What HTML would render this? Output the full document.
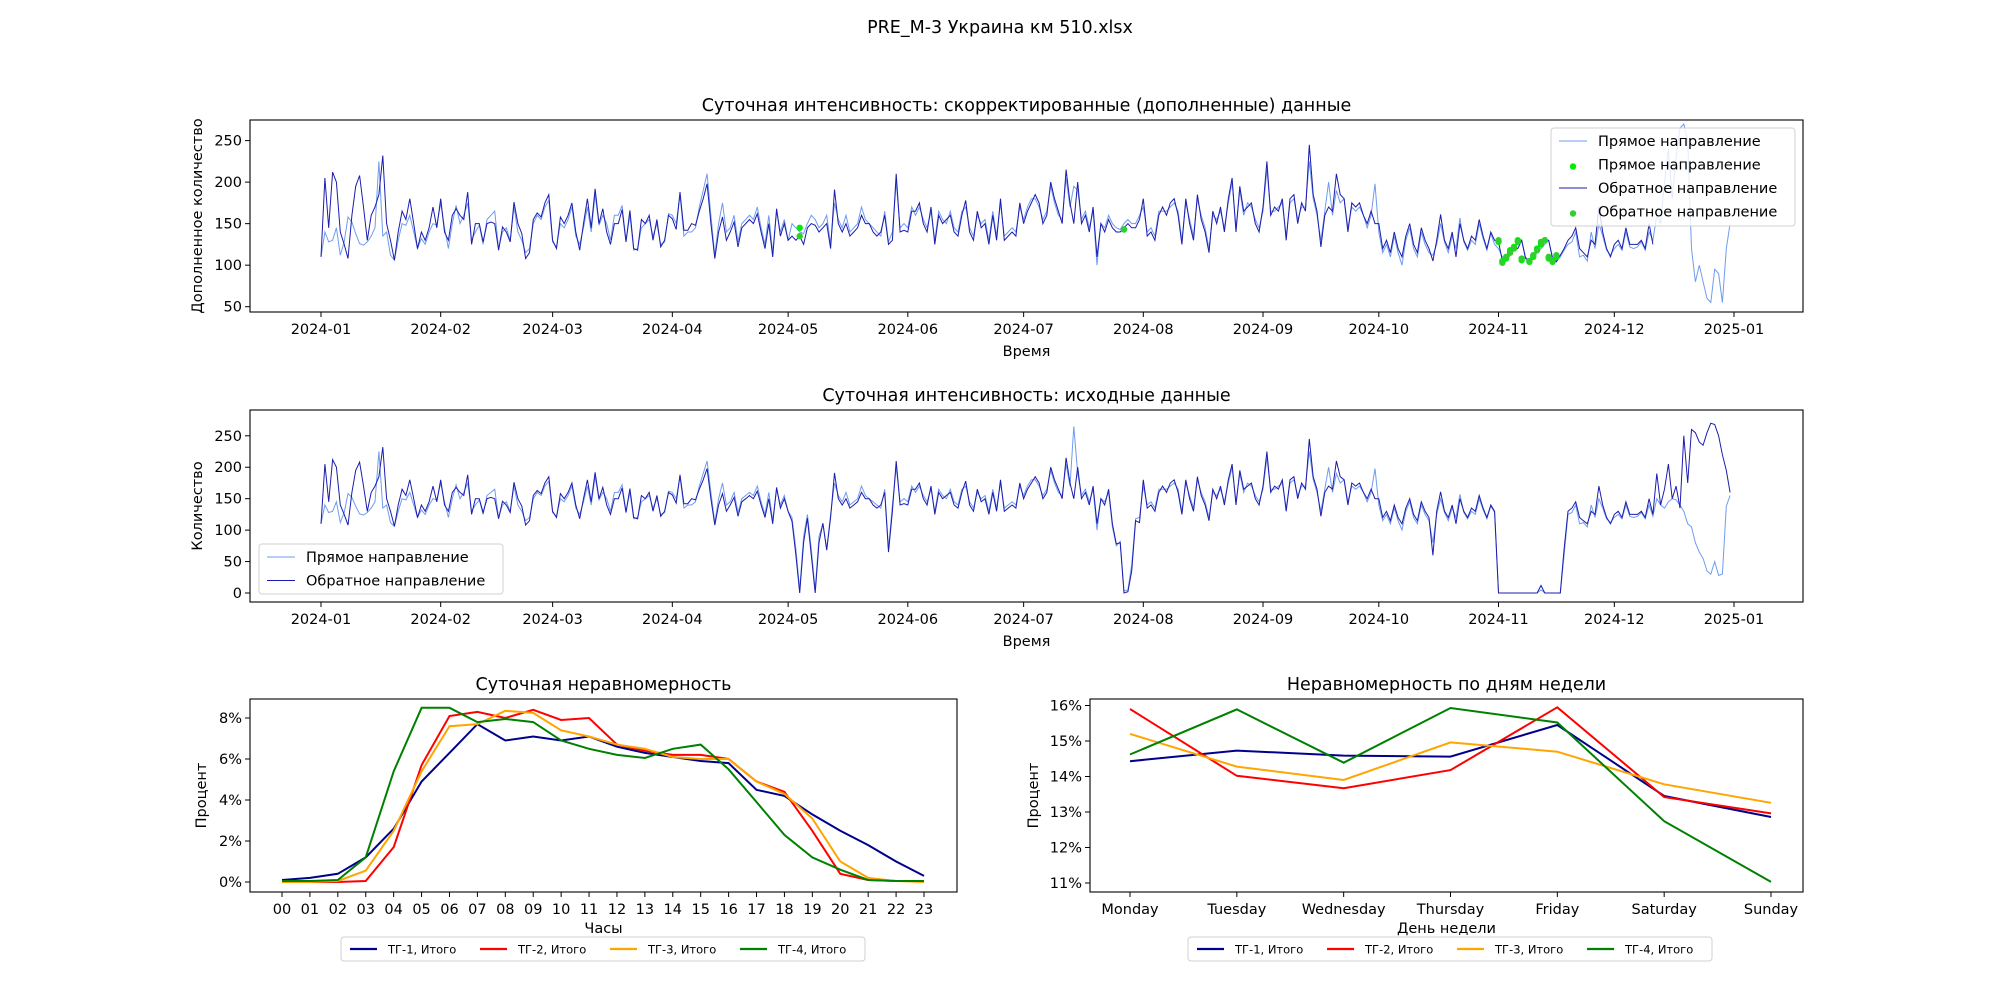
<!DOCTYPE html>
<html><head><meta charset="utf-8"><style>
html,body{margin:0;padding:0;background:#fff;}
svg{display:block;font-family:"DejaVu Sans","Liberation Sans",sans-serif;}
</style></head><body>
<svg id="fig" width="2000" height="1000" viewBox="0 0 2000 1000" xmlns="http://www.w3.org/2000/svg">
<text x="1000" y="33" font-size="17.5" text-anchor="middle">PRE_M-3 Украина км 510.xlsx</text>
</svg>
<script>
// ---------- DATA ----------
const monthTicks = ["2024-01","2024-02","2024-03","2024-04","2024-05","2024-06","2024-07","2024-08","2024-09","2024-10","2024-11","2024-12","2025-01"];
const monthStartDays = [0,31,60,91,121,152,182,213,244,274,305,335,366];
const bwdRaw = [
110,205,145,212,200,140,125,108,160,195,208,170,130,160,170,185,232,150,130,106,140,165,155,180,150,120,140,130,145,170,145,
180,140,130,160,168,160,155,188,125,150,150,128,150,152,150,118,146,140,128,176,150,138,108,115,155,163,158,175,185,
130,120,158,150,160,175,140,118,150,180,145,192,150,168,140,125,150,150,167,128,166,120,118,155,150,160,130,155,122,130,160,
156,143,188,142,142,150,148,165,180,198,150,108,140,158,130,140,152,122,145,150,155,150,162,140,120,150,110,168,135,150,
130,114,60,0,80,119,60,0,80,111,68,120,191,150,140,150,135,140,145,160,150,150,140,135,140,160,65,130,210,140,142,
140,165,165,175,150,140,170,125,160,150,155,160,140,135,160,178,140,130,165,145,150,125,160,130,180,130,135,140,135,175,
150,165,175,185,175,150,160,200,180,165,150,215,175,150,200,150,160,140,170,110,150,140,165,110,78,80,0,2,35,115,112,
180,135,140,130,160,170,160,175,180,160,125,180,150,130,185,155,140,115,165,150,170,140,180,205,140,195,165,170,175,150,140,
170,225,160,170,165,180,130,180,185,150,175,165,245,185,165,122,160,170,165,210,185,180,140,175,170,175,160,150,165,150,
150,120,130,115,140,120,110,135,150,125,115,145,130,120,60,130,161,130,120,140,110,150,130,120,135,130,155,135,120,140,130,
0,0,0,0,0,0,0,0,0,0,0,12,0,0,0,0,0,70,130,135,145,120,115,110,130,125,170,140,120,110,
125,130,120,145,125,125,125,130,120,150,125,190,140,165,205,150,170,135,250,175,260,255,240,235,255,270,268,250,220,195,160];
const fwdRaw = [
110,140,128,130,145,112,128,158,152,138,126,124,128,135,145,225,135,140,112,106,130,150,148,160,140,120,132,125,140,150,148,
175,145,120,150,172,150,160,175,130,140,148,125,155,160,165,120,140,145,130,170,140,130,115,120,150,160,155,170,178,
128,122,150,145,155,170,135,125,145,170,140,185,148,160,150,130,160,160,172,130,160,118,120,145,150,155,135,150,125,128,162,
160,150,185,135,140,140,145,170,190,210,160,112,150,175,140,145,160,128,150,155,160,155,170,145,125,160,115,165,140,155,
130,120,70,5,90,125,70,5,90,110,70,125,175,155,145,160,140,145,150,170,155,150,145,140,135,165,70,140,200,145,150,
145,170,160,170,155,145,165,130,165,155,150,165,145,140,165,170,145,135,160,150,155,130,165,135,175,135,140,145,140,170,
155,170,180,180,170,155,165,195,175,160,155,205,170,265,190,155,165,145,165,100,150,145,160,105,75,82,3,5,45,118,120,
170,140,145,135,165,165,165,170,175,165,130,175,155,135,180,160,145,120,160,155,165,145,175,200,145,190,160,175,170,155,145,
165,215,165,165,170,175,135,175,180,155,170,170,225,180,160,130,165,200,160,190,175,180,145,170,165,170,160,145,160,198,
140,115,125,110,135,115,100,130,145,120,110,140,125,115,80,125,150,128,115,135,120,157,128,118,130,125,150,132,118,138,128,
0,0,0,0,0,0,0,0,0,0,0,5,0,0,0,0,0,60,125,128,140,110,112,105,140,120,150,135,118,112,
120,125,118,140,122,120,122,128,118,140,122,150,140,135,145,150,148,140,130,110,105,80,65,55,35,30,50,28,30,138,155];
// corrections for the adjusted (top) chart
const corrIdx = [122,123,124,125,126,127,128,129,130,131, 147, 195, 204,205,206,207,208,209,210,211,212, 288,
 304,305,306,307,308,309,310,311,312,313,314,315,316,317,318,319,320,321,322,
 345,346,347,348,349,350,351,352,353,354,355,356,357,358,359,360,361,362,363,364,365];
const corrFwd = [150,145,140,138,150,160,155,145,150,160, 128, 195, 160,150,145,143,150,155,150,150,160, 112,
 125,120,110,105,112,120,125,130,110,105,108,115,120,125,130,110,105,110,118,
 130,160,150,200,240,180,230,265,270,250,120,80,100,80,60,55,95,90,55,120,150];
const corrBwd = [135,130,135,125,145,150,148,140,145,150, 125, 150, 155,145,140,140,145,150,145,145,155, 105,
 130,128,105,108,115,122,120,130,108,105,112,118,125,128,130,108,104,112,120,
 125,null,null,null,null,null,null,null,null,null,null,null,null,null,null,null,null,null,null,null,null];
const ptIdx = [124,208,305,306,307,308,309,310,311,313,314,315,316,317,318,319,320];
const ptFwd = [145,143,128,105,108,118,122,130,106,104,110,120,125,130,108,104,110];
const ptBwd = [135,143,130,103,110,115,120,128,108,105,112,118,128,130,110,106,112];
// hourly distribution (%)
const hours = ["00","01","02","03","04","05","06","07","08","09","10","11","12","13","14","15","16","17","18","19","20","21","22","23"];
const hourTG1 = [0.1,0.2,0.4,1.2,2.6,4.9,6.3,7.7,6.9,7.1,6.9,7.1,6.6,6.3,6.1,5.9,5.8,4.5,4.2,3.3,2.5,1.8,1.0,0.3];
const hourTG2 = [0,0,0,0.05,1.7,5.7,8.1,8.3,8.0,8.4,7.9,8.0,6.7,6.4,6.2,6.2,6.0,4.9,4.4,2.5,0.4,0.1,0.05,0.05];
const hourTG3 = [0,0,0.05,0.55,2.5,5.4,7.6,7.7,8.35,8.25,7.4,7.1,6.7,6.5,6.1,6.0,6.0,4.9,4.3,3.1,1.0,0.2,0.05,0];
const hourTG4 = [0.05,0.05,0.1,1.2,5.4,8.5,8.5,7.8,7.95,7.8,6.9,6.5,6.2,6.05,6.5,6.7,5.5,3.9,2.3,1.2,0.6,0.1,0.05,0.05];
const days = ["Monday","Tuesday","Wednesday","Thursday","Friday","Saturday","Sunday"];
const dayTG1 = [14.43,14.73,14.59,14.56,15.45,13.45,12.86];
const dayTG2 = [15.9,14.02,13.67,14.18,15.95,13.42,12.96];
const dayTG3 = [15.2,14.28,13.9,14.96,14.7,13.78,13.26];
const dayTG4 = [14.62,15.89,14.39,15.93,15.52,12.74,11.03];
const tgNames = ["ТГ-1, Итого","ТГ-2, Итого","ТГ-3, Итого","ТГ-4, Итого"];

// ---------- DRAW ----------
const NS = "http://www.w3.org/2000/svg";
const svg = document.getElementById('fig');
function mk(tag, attrs, parent){const e=document.createElementNS(NS,tag);for(const k in attrs)e.setAttribute(k,attrs[k]);(parent||svg).appendChild(e);return e;}
function txt(x,y,s,size,anchor,parent,extra){const t=mk('text',Object.assign({x:x,y:y,'font-size':size,'text-anchor':anchor||'middle',fill:'#000'},extra||{}),parent);t.textContent=s;return t;}
const C = {light:'#6f9cf0', dark:'#1c1cae', tg:['#00008b','#ff0000','#ffa500','#008000']};

function axesBox(L,T,R,B,name){const g=mk('g',{});
 mk('rect',{x:L,y:T,width:R-L,height:B-T,fill:'none',stroke:'#000','stroke-width':1.1},g);return g;}
function pathFrom(pts){let d='';let pen=false;for(const p of pts){if(p==null){pen=false;continue;}d+=(pen?'L':'M')+p[0].toFixed(1)+','+p[1].toFixed(1);pen=true;}return d;}

// time axis
const X0=321, X1=1734, NDAYS=366;
const xDay = d => X0 + d*(X1-X0)/NDAYS;
function timeAxes(L,T,R,B,yOf,yTicks,ylabel,name){
 const g=axesBox(L,T,R,B,name);
 monthTicks.forEach((m,i)=>{const x=xDay(monthStartDays[i]);mk('line',{x1:x,x2:x,y1:B,y2:B+5,stroke:'#000'},g);
  const t=txt(x,B+22,m,14.5,'middle',g);});
 yTicks.forEach(v=>{const y=yOf(v);mk('line',{x1:L-5,x2:L,y1:y,y2:y,stroke:'#000'},g);
  const t=txt(L-8,y+5,String(v),14.5,'end',g);});
 const xl=txt((L+R)/2,B+44,'Время',14.5,'middle',g);
 const yl=txt(0,0,ylabel,14.5,'middle',g,{transform:`translate(${L-48},${(T+B)/2}) rotate(-90)`});
 return g;}

// ---- top chart ----
{
 const L=250,T=120,R=1803,B=312;
 const yOf=v=>306.7-(v-50)*(306.7-140.6)/200;
 const g=timeAxes(L,T,R,B,yOf,[50,100,150,200,250],'Дополненное количество','adjusted-daily-chart');
 const t=txt((L+R)/2,T-9,'Суточная интенсивность: скорректированные (дополненные) данные',17.5,'middle',g);
 
 const fwd=fwdRaw.slice(), bwd=bwdRaw.slice();
 corrIdx.forEach((d,i)=>{fwd[d]=corrFwd[i];bwd[d]=corrBwd[i];});
 const lf=mk('path',{d:pathFrom(fwd.map((v,i)=>v==null?null:[xDay(i),yOf(v)])),fill:'none',stroke:C.light,'stroke-width':1},g);
 
 const lb=mk('path',{d:pathFrom(bwd.map((v,i)=>v==null?null:[xDay(i),yOf(v)])),fill:'none',stroke:C.dark,'stroke-width':1},g);
 
 ptIdx.forEach((d,i)=>{
  const a=mk('circle',{cx:xDay(d),cy:yOf(ptFwd[i]),r:3.2,fill:'#00ee00'},g);
  
  const b=mk('circle',{cx:xDay(d),cy:yOf(ptBwd[i]),r:3.2,fill:'#2fcf2f'},g);
  
 });
 const lg=mk('g',{},g);
 mk('rect',{x:1551,y:128,width:244,height:98,rx:3,fill:'#fff','fill-opacity':0.8,stroke:'#d0d0d0'},lg);
 const items=[['line',C.light,'Прямое направление'],['dot','#00ee00','Прямое направление'],['line',C.dark,'Обратное направление'],['dot','#2fcf2f','Обратное направление']];
 items.forEach((it,i)=>{const y=141+i*23.5;
  if(it[0]=='line')mk('line',{x1:1559,x2:1587,y1:y,y2:y,stroke:it[1],'stroke-width':1},lg);else mk('circle',{cx:1573,cy:y+2,r:3.2,fill:it[1]},lg);
  const e=txt(1598,y+5,it[2],14.5,'start',lg);});
}
// ---- middle chart ----
{
 const L=250,T=410,R=1803,B=602;
 const yOf=v=>593-v*(593-435.8)/250;
 const g=timeAxes(L,T,R,B,yOf,[0,50,100,150,200,250],'Количество','raw-daily-chart');
 const t=txt((L+R)/2,T-9,'Суточная интенсивность: исходные данные',17.5,'middle',g);
 
 const lf=mk('path',{d:pathFrom(fwdRaw.map((v,i)=>[xDay(i),yOf(v)])),fill:'none',stroke:C.light,'stroke-width':1},g);
 
 const lb=mk('path',{d:pathFrom(bwdRaw.map((v,i)=>[xDay(i),yOf(v)])),fill:'none',stroke:C.dark,'stroke-width':1},g);
 
 const lg=mk('g',{},g);
 mk('rect',{x:259,y:544,width:244,height:50,rx:3,fill:'#fff','fill-opacity':0.8,stroke:'#d0d0d0'},lg);
 [[C.light,'Прямое направление'],[C.dark,'Обратное направление']].forEach((it,i)=>{const y=557+i*23.5;
  mk('line',{x1:267,x2:295,y1:y,y2:y,stroke:it[0],'stroke-width':1},lg);
  const e=txt(306,y+5,it[1],14.5,'start',lg);});
}
// ---- bottom charts ----
function bottomLegend(cx,y,name,parent){
 const lg=mk('g',{},parent);
 const w=524;const L=cx-w/2;
 mk('rect',{x:L,y:y,width:w,height:24,rx:3,fill:'#fff',stroke:'#d0d0d0'},lg);
 tgNames.forEach((n,i)=>{const x=L+9+i*130;
  mk('line',{x1:x,x2:x+27,y1:y+12,y2:y+12,stroke:C.tg[i],'stroke-width':2.2},lg);
  const e=txt(x+38,y+16.5,n,11.5,'start',lg);});
}
{
 const L=250,T=699,R=957,B=892;
 const g=axesBox(L,T,R,B,'hourly-chart');
 const xOf=i=>282+i*(924-282)/23, yOf=v=>882-v*(882-718)/8;
 const t=txt((L+R)/2,T-9,'Суточная неравномерность',17.5,'middle',g);
 hours.forEach((h,i)=>{const x=xOf(i);mk('line',{x1:x,x2:x,y1:B,y2:B+5,stroke:'#000'},g);
  const e=txt(x,B+22,h,14.5,'middle',g);});
 [0,2,4,6,8].forEach(v=>{const y=yOf(v);mk('line',{x1:L-5,x2:L,y1:y,y2:y,stroke:'#000'},g);
  const e=txt(L-8,y+5,v+'%',14.5,'end',g);});
 [hourTG1,hourTG2,hourTG3,hourTG4].forEach((s,k)=>{const p=mk('path',{d:pathFrom(s.map((v,i)=>[xOf(i),yOf(v)])),fill:'none',stroke:C.tg[k],'stroke-width':2},g);
  });
 const xl=txt((L+R)/2,B+41,'Часы',14.5,'middle',g);
 const yl=txt(0,0,'Процент',14.5,'middle',g,{transform:`translate(${L-44},${(T+B)/2}) rotate(-90)`});
 bottomLegend(603,937,'hourly-legend',g);
}
{
 const L=1090,T=699,R=1803,B=892;
 const g=axesBox(L,T,R,B,'weekday-chart');
 const xOf=i=>1130+i*(1771-1130)/6, yOf=v=>883-(v-11)*(883-705.5)/5;
 const t=txt((L+R)/2,T-9,'Неравномерность по дням недели',17.5,'middle',g);
 days.forEach((h,i)=>{const x=xOf(i);mk('line',{x1:x,x2:x,y1:B,y2:B+5,stroke:'#000'},g);
  const e=txt(x,B+22,h,14.5,'middle',g);});
 [11,12,13,14,15,16].forEach(v=>{const y=yOf(v);mk('line',{x1:L-5,x2:L,y1:y,y2:y,stroke:'#000'},g);
  const e=txt(L-8,y+5,v+'%',14.5,'end',g);});
 [dayTG1,dayTG2,dayTG3,dayTG4].forEach((s,k)=>{const p=mk('path',{d:pathFrom(s.map((v,i)=>[xOf(i),yOf(v)])),fill:'none',stroke:C.tg[k],'stroke-width':2},g);
  });
 const xl=txt((L+R)/2,B+41,'День недели',14.5,'middle',g);
 const yl=txt(0,0,'Процент',14.5,'middle',g,{transform:`translate(${L-52},${(T+B)/2}) rotate(-90)`});
 bottomLegend(1450,937,'weekday-legend',g);
}
</script>
</body></html>
